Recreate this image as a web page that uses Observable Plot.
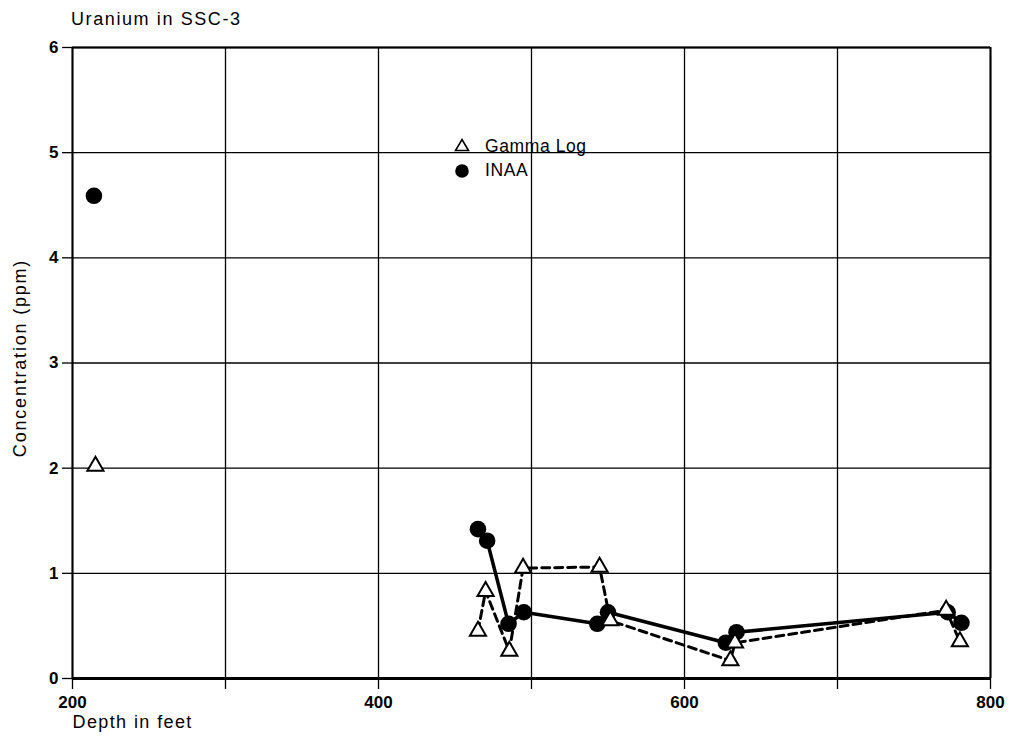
<!DOCTYPE html>
<html>
<head>
<meta charset="utf-8">
<script src="https://cdn.jsdelivr.net/npm/d3@7"></script>
<script src="https://cdn.jsdelivr.net/npm/@observablehq/plot@0.6"></script>
<style>
  body { margin: 0; background: #fff; font-family: "Liberation Sans", Arial, sans-serif; color: #000; }
  #wrap { position: relative; width: 1011px; height: 742px; }
  #title { position: relative; height: 30px; }
  #title span { position: absolute; left: 71px; top: 11px; font-size: 18px; line-height: 17px; letter-spacing: 1.6px; white-space: nowrap; }
  #chart { position: relative; z-index: 1; }
  #chart svg { background: transparent; }
  .leg { position: absolute; z-index: 0; font-size: 17.5px; line-height: 17px; letter-spacing: 0.6px; white-space: nowrap; }
  .legsym { position: absolute; z-index: 0; }
</style>
</head>
<body>
<div id="wrap">
  <div id="title"><span>Uranium in SSC-3</span></div>
  <div id="chart"></div>
</div>
<script>
// ---- data ----
const inaaDepth = [214, 465, 471, 485, 495, 543, 550, 627, 634, 772, 781];
const inaaU     = [4.59, 1.42, 1.31, 0.52, 0.63, 0.52, 0.63, 0.34, 0.44, 0.63, 0.53];
const gammaDepth = [215, 465, 470, 485.5, 494.5, 544.5, 551.5, 630, 633, 771, 780];
const gammaU     = [2.02, 0.45, 0.83, 0.26, 1.05, 1.06, 0.55, 0.17, 0.34, 0.65, 0.35];
const xGridValues = [200, 300, 400, 500, 600, 700, 800];
const xTickLabels = [200, 400, 600, 800];
const yTicks = [0, 1, 2, 3, 4, 5, 6];
const seriesNames = ["Gamma Log", "INAA"];
const titleText = "Uranium in SSC-3";
const xLabel = "Depth in feet";
const yLabel = "Concentration (ppm)";

const inaa = inaaDepth.map((d, i) => ({depth: d, u: inaaU[i]}));
const gamma = gammaDepth.map((d, i) => ({depth: d, u: gammaU[i]}));
// the shallow isolated sample (≈215 ft) is not joined by the lines
const inaaLine = inaa.filter(d => d.depth > 400);
const gammaLine = gamma.filter(d => d.depth > 400);

const FONT = "Liberation Sans, Arial, sans-serif";

const chart = Plot.plot({
  width: 1011,
  height: 712,
  marginLeft: 72,
  marginRight: 21,
  marginTop: 17,
  marginBottom: 64,
  x: {domain: [200, 800]},
  y: {domain: [0, 6]},
  style: {fontFamily: FONT, fontSize: "17px", background: "transparent", color: "#000", overflow: "visible"},
  marks: [
    Plot.ruleX(xGridValues, {stroke: "#000", strokeWidth: 1.3}),
    Plot.ruleY(yTicks, {stroke: "#000", strokeWidth: 1.3}),
    Plot.axisX(xGridValues, {
      tickSize: 11, tickPadding: 6, strokeWidth: 1.3,
      tickFormat: d => xTickLabels.includes(d) ? String(d) : "",
      fontSize: 17, fontWeight: "bold", label: null
    }),
    Plot.axisY(yTicks, {tickSize: 10, tickPadding: 4, strokeWidth: 1.3, fontSize: 17, fontWeight: "bold", label: null,
      tickFormat: d => String(d)}),
    Plot.ruleX([200], {stroke: "#000", strokeWidth: 2}),
    Plot.ruleX([800], {stroke: "#000", strokeWidth: 2}),
    Plot.ruleY([6], {stroke: "#000", strokeWidth: 2}),
    Plot.ruleY([0], {stroke: "#000", strokeWidth: 3}),
    Plot.line(gammaLine, {x: "depth", y: "u", stroke: "#000", strokeWidth: 3, strokeDasharray: "8,5"}),
    Plot.line(inaaLine, {x: "depth", y: "u", stroke: "#000", strokeWidth: 3.5}),
    Plot.dot(inaa, {x: "depth", y: "u", r: 8.3, fill: "#000", stroke: "none"}),
    Plot.dot(gamma, {x: "depth", y: "u", symbol: "triangle", r: 6, fill: "#fff", stroke: "#000", strokeWidth: 2}),
    Plot.text([xLabel], {text: d => d, frameAnchor: "bottom-left", textAnchor: "start", dy: 49, fontSize: 18, fill: "#000"}),
    Plot.text([yLabel], {text: d => d, frameAnchor: "left", textAnchor: "middle", rotate: -90, dx: -52, dy: -5, fontSize: 18, fill: "#000"})
  ]
});
document.getElementById("chart").appendChild(chart);
d3.select(chart).selectAll("text")
  .filter(function () { return this.textContent === xLabel; })
  .attr("letter-spacing", "1.4px");
d3.select(chart).selectAll("text")
  .filter(function () { return this.textContent === yLabel; })
  .attr("letter-spacing", "1.8px");

// legend (sits under the grid lines, as in the reference)
const wrap = document.getElementById("wrap");
function addLegend(name, sym, cy, baseline) {
  const s = document.createElementNS("http://www.w3.org/2000/svg", "svg");
  s.setAttribute("width", 20); s.setAttribute("height", 20);
  s.setAttribute("class", "legsym");
  s.style.left = (462 - 10) + "px"; s.style.top = (cy - 10) + "px";
  if (sym === "triangle") {
    const p = document.createElementNS("http://www.w3.org/2000/svg", "path");
    p.setAttribute("d", "M10,3.5 L16.5,14.5 L3.5,14.5 Z");
    p.setAttribute("fill", "#fff"); p.setAttribute("stroke", "#000"); p.setAttribute("stroke-width", "1.6");
    s.appendChild(p);
  } else {
    const c = document.createElementNS("http://www.w3.org/2000/svg", "circle");
    c.setAttribute("cx", 10); c.setAttribute("cy", 10); c.setAttribute("r", 6.8);
    c.setAttribute("fill", "#000");
    s.appendChild(c);
  }
  wrap.appendChild(s);
  const t = document.createElement("div");
  t.className = "leg";
  t.textContent = name;
  t.style.left = "485px";
  t.style.top = (baseline - 14.6) + "px";
  wrap.appendChild(t);
}
addLegend(seriesNames[0], "triangle", 146, 153);
addLegend(seriesNames[1], "circle", 171, 177);
</script>
</body>
</html>
